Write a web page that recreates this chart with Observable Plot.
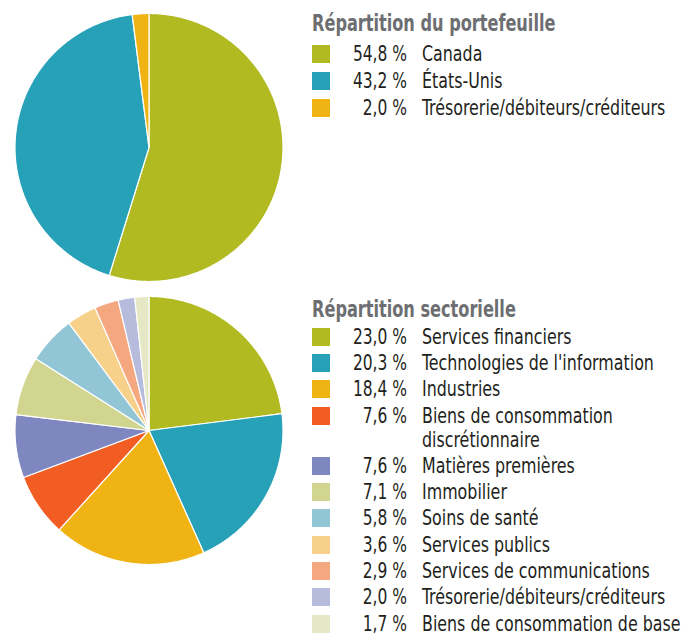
<!DOCTYPE html>
<html><head><meta charset="utf-8">
<script src="https://cdn.jsdelivr.net/npm/d3@7"></script>
<script src="https://cdn.jsdelivr.net/npm/@observablehq/plot@0.6"></script>
<style>
body{margin:0;background:#fff;}
#wrap{position:relative;width:690px;height:635px;overflow:hidden;font-family:"DejaVu Sans Condensed","DejaVu Sans",sans-serif;}
.pie{position:absolute;left:0;}
.legend{position:absolute;left:312px;width:378px;}
.legend h3{margin:0;font-size:23px;font-weight:bold;color:#6d6e71;line-height:26px;white-space:nowrap;transform:scaleX(0.78);transform-origin:0 0;}
.row{display:flex;align-items:flex-start;font-size:21px;line-height:24px;color:#231f20;}
.sw{width:18px;height:18px;margin-top:3px;flex:none;}
.pct{width:77px;flex:none;white-space:nowrap;text-align:right;}
.pct span{display:inline-block;transform:scaleX(0.82);transform-origin:100% 0;}
.lab{margin-left:15px;flex:none;width:268px;}
.lab span{display:block;width:340px;transform:scaleX(0.84);transform-origin:0 0;}
</style></head>
<body><div id="wrap"></div>
<script>
// Répartition du portefeuille
const portCats = ["Canada", "États-Unis", "Trésorerie/débiteurs/créditeurs"];
const portVals = [54.8, 43.2, 2.0];
const portColors = ["#b1bb21", "#27a1b8", "#f0b314"];

// Répartition sectorielle
const sectCats = ["Services financiers", "Technologies de l'information", "Industries",
  "Biens de consommation discrétionnaire", "Matières premières", "Immobilier",
  "Soins de santé", "Services publics", "Services de communications",
  "Trésorerie/débiteurs/créditeurs", "Biens de consommation de base"];
const sectVals = [23.0, 20.3, 18.4, 7.6, 7.6, 7.1, 5.8, 3.6, 2.9, 2.0, 1.7];
const sectColors = ["#b1bb21", "#27a1b8", "#f0b314", "#f15d22", "#7f87c0", "#d2d58f",
  "#92c6d6", "#f7d08a", "#f5a780", "#b7bcdd", "#e4e8c4"];

const fmt = v => d3.format(".1f")(v).replace(".", ",") + "\u00a0%";

function pieChart(cats, vals, colors) {
  const arcs = d3.pie().sort(null).value(d => d)(vals);
  const features = arcs.map((a, i) => {
    const ring = [[0, 0]];
    const n = Math.max(2, Math.ceil((a.endAngle - a.startAngle) / (Math.PI / 360)));
    for (let k = 0; k <= n; k++) {
      const t = a.startAngle + (a.endAngle - a.startAngle) * k / n;
      ring.push([Math.sin(t), -Math.cos(t)]);
    }
    ring.push([0, 0]);
    return {type: "Feature", properties: {name: cats[i]}, geometry: {type: "Polygon", coordinates: [ring]}};
  });
  return Plot.plot({
    width: 297, height: 294,
    marginLeft: 14, marginRight: 14, marginTop: 13, marginBottom: 13,
    projection: {type: "identity", domain: {type: "MultiPoint", coordinates: [[-1, -1], [1, 1]]}},
    color: {type: "ordinal", domain: cats, range: colors},
    marks: [Plot.geo(features, {fill: d => d.properties.name, stroke: "white", strokeWidth: 1.2})]
  });
}

function legend(title, cats, vals, colors, top, gap) {
  const div = document.createElement("div");
  div.className = "legend";
  div.style.top = top + "px";
  const h = document.createElement("h3");
  h.textContent = title;
  div.appendChild(h);
  cats.forEach((c, i) => {
    const r = document.createElement("div");
    r.className = "row";
    r.style.marginTop = (i === 0 ? gap[0] : gap[1]) + "px";
    r.innerHTML = `<span class="sw" style="background:${colors[i]}"></span><span class="pct"><span>${fmt(vals[i])}</span></span><span class="lab"><span></span></span>`;
    r.querySelector(".lab span").textContent = c;
    div.appendChild(r);
  });
  return div;
}

const wrap = document.getElementById("wrap");
const p1 = pieChart(portCats, portVals, portColors);
p1.classList.add("pie"); p1.style.top = "0px";
wrap.appendChild(p1);
const p2 = pieChart(sectCats, sectVals, sectColors);
p2.classList.add("pie"); p2.style.top = "283px";
wrap.appendChild(p2);
wrap.appendChild(legend("Répartition du portefeuille", portCats, portVals, portColors, 10, [6, 3.2]));
wrap.appendChild(legend("Répartition sectorielle", sectCats, sectVals, sectColors, 296, [2.7, 2.3]));
</script>
</body></html>
